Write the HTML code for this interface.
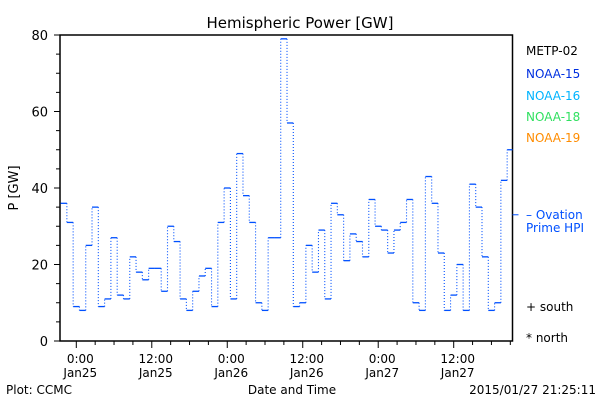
<!DOCTYPE html>
<html><head><meta charset="utf-8"><style>
body{margin:0;background:#fff}
svg{display:block;font-family:"DejaVu Sans","Liberation Sans",sans-serif}
</style></head><body>
<svg width="600" height="400">
<g id="g"></g>
</svg>
<script>
const categoryStartHour = -2.5;
const powerValues = [36,31,9,8,25,35,9,11,27,12,11,22,18,16,19,19,13,30,26,11,8,13,17,19,9,31,40,11,49,38,31,10,8,27,27,79,57,9,10,25,18,29,11,36,33,21,28,26,22,37,30,29,23,29,31,37,10,8,43,36,23,8,12,20,8,41,35,22,8,10,42,50,49];
const yTickLabels = [0,20,40,60,80];
const xTickLabels = [["0:00","Jan25"],["12:00","Jan25"],["0:00","Jan26"],["12:00","Jan26"],["0:00","Jan27"],["12:00","Jan27"]];
const ovationValue = 33;

const L=60,R=512.5,T=35,B=341;
const X0=76.3,PXH=6.29;
const x=h=>X0+h*PXH;
const y=v=>B-(v/80)*(B-T);
const g=document.getElementById('g');
const NS='http://www.w3.org/2000/svg';
function mk(t,a,txt){const e=document.createElementNS(NS,t);for(const k in a)e.setAttribute(k,a[k]);if(txt!=null)e.textContent=txt;g.appendChild(e);return e;}
let e;
e=mk('text',{x:300,y:28,'text-anchor':'middle','font-size':15},'Hemispheric Power [GW]');


e=mk('rect',{x:L,y:T,width:R-L,height:B-T,fill:'none',stroke:'#000','stroke-width':1.5});


for(let v=0;v<=80;v+=5){e=mk('line',{x1:L-(v%20?4:6),x2:L,y1:y(v),y2:y(v),stroke:'#000'});

}
yTickLabels.forEach(v=>{e=mk('text',{x:L-12,y:y(v)+5,'text-anchor':'end','font-size':13},String(v));

});
e=mk('text',{x:18,y:188,'text-anchor':'middle','font-size':13,transform:'rotate(-90 18 188)'},'P [GW]');


for(let h=-3;x(h)<=R;h+=3){if(x(h)<L)continue;e=mk('line',{x1:x(h),x2:x(h),y1:B,y2:B+(h%12?4:7),stroke:'#000'});

}
xTickLabels.forEach((l,i)=>{const xx=x(i*12)+4;
e=mk('text',{x:xx,y:363,'text-anchor':'middle','font-size':12},l[0]);


e=mk('text',{x:xx,y:377,'text-anchor':'middle','font-size':12},l[1]);

});
e=mk('text',{x:6,y:394,'font-size':12},'Plot: CCMC');


e=mk('text',{x:292,y:394,'text-anchor':'middle','font-size':12},'Date and Time');


e=mk('text',{x:596,y:394,'text-anchor':'end','font-size':12},'2015/01/27 21:25:11');


const blue='#0050ff';
powerValues.forEach((v,i)=>{
 const x1=Math.max(L,x(categoryStartHour+i)),x2=Math.min(R,x(categoryStartHour+i+1));
 if(x1>=R)return;
 e=mk('line',{x1:x1,x2:x2,y1:y(v),y2:y(v),stroke:blue,'stroke-width':1.3});
 
 
 if(i<powerValues.length-1&&x2<R){
  e=mk('line',{x1:x2,x2:x2,y1:y(v),y2:y(powerValues[i+1]),stroke:blue,'stroke-width':1.1,'stroke-dasharray':'1 2'});
  
  
 }
});
e=mk('line',{x1:R,x2:R+6,y1:y(ovationValue),y2:y(ovationValue),stroke:blue});


const leg=[['METP-02','#000',55],['NOAA-15','#0030e0',78],['NOAA-16','#00b4ff',100],['NOAA-18','#30e060',121],['NOAA-19','#ff8c00',142]];
leg.forEach(l=>{e=mk('text',{x:526,y:l[2],'font-size':12,fill:l[1]},l[0]);

});
e=mk('text',{x:526,y:219,'font-size':12,fill:blue},'\u2013 Ovation');


e=mk('text',{x:526,y:232,'font-size':12,fill:blue},'Prime HPI');


e=mk('text',{x:526,y:311,'font-size':12},'+ south');


e=mk('text',{x:526,y:342,'font-size':12},'* north');


</script>
</body></html>
